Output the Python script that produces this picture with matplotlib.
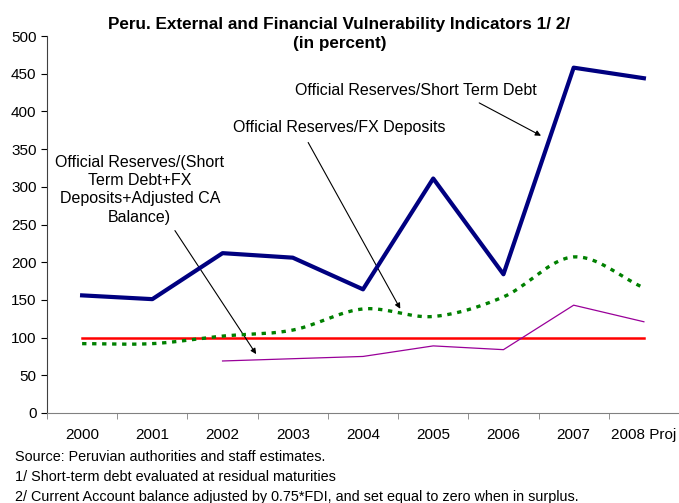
import numpy as np
import matplotlib.pyplot as plt

plt.rcParams['font.family'] = ['Liberation Sans', 'DejaVu Sans']

years = ["2000", "2001", "2002", "2003", "2004", "2005", "2006", "2007", "2008 Proj"]
res_std = [156, 151, 212, 206, 164, 311, 184, 458, 444]
res_fx = [92, 92, 102, 110, 138, 128, 154, 207, 166]
res_total = [np.nan, np.nan, 69, 72, 75, 89, 84, 143, 121]
threshold = [100] * 9


def smooth(xs, ys, n=20):
    # Catmull-Rom curve through the points, like a smoothed spreadsheet line
    xs = np.asarray(xs, float)
    ys = np.asarray(ys, float)
    px = np.concatenate([[2 * xs[0] - xs[1]], xs, [2 * xs[-1] - xs[-2]]])
    py = np.concatenate([[2 * ys[0] - ys[1]], ys, [2 * ys[-1] - ys[-2]]])
    ox, oy = [], []
    for i in range(1, len(px) - 2):
        t = np.linspace(0, 1, n, endpoint=False)
        for arr, out in ((px, ox), (py, oy)):
            p0, p1, p2, p3 = arr[i - 1], arr[i], arr[i + 1], arr[i + 2]
            out.extend(0.5 * (2 * p1 + (-p0 + p2) * t
                              + (2 * p0 - 5 * p1 + 4 * p2 - p3) * t ** 2
                              + (-p0 + 3 * p1 - 3 * p2 + p3) * t ** 3))
    ox.append(xs[-1])
    oy.append(ys[-1])
    return ox, oy


fig = plt.figure(figsize=(6.79, 5.03), dpi=100)
ax = fig.add_axes([47 / 679, 90 / 503, 632 / 679, 377 / 503])

x = np.arange(len(years))
ax.plot(x, threshold, color="#ff0000", lw=1.8, zorder=2)
ax.plot(x, res_total, color="#990099", lw=0.9, zorder=3)
sx, sy = smooth(x, res_fx)
ax.plot(sx, sy, color="#008000", lw=2.4, linestyle=(0, (1.3, 1.7)), zorder=4)
ax.plot(x, res_std, color="#000080", lw=3.0, zorder=5)

ax.set_xlim(-0.5, 8.5)
ax.set_ylim(0, 500)
ax.set_yticks(range(0, 501, 50))
ax.set_xticks(x)
ax.set_xticklabels(years)
ax.set_xticks(np.arange(-0.5, 8.6, 1), minor=True)
ax.tick_params(axis="x", which="major", length=0, pad=11, labelsize=11)
ax.tick_params(axis="x", which="minor", length=4, color="#808080")
ax.tick_params(axis="y", length=4, labelsize=11)
for s in ("top", "right"):
    ax.spines[s].set_visible(False)
ax.spines["bottom"].set_color("#808080")
ax.spines["left"].set_color("#404040")

fig.text(0.5, 0.933, "Peru. External and Financial Vulnerability Indicators 1/ 2/\n(in percent)",
         ha="center", va="center", fontsize=12.3, fontweight="bold", linespacing=1.3)

arrow = dict(arrowstyle="-|>", color="black", lw=0.8, mutation_scale=8)
ax.text(4.75, 428, "Official Reserves/Short Term Debt", ha="center", va="center", fontsize=11.5)
ax.annotate("", xy=(6.57, 366), xytext=(5.62, 413), arrowprops=arrow)
ax.text(3.66, 378, "Official Reserves/FX Deposits", ha="center", va="center", fontsize=11.5)
ax.annotate("", xy=(4.55, 135), xytext=(3.2, 362), arrowprops=arrow)
ax.text(0.82, 296, "Official Reserves/(Short\nTerm Debt+FX\nDeposits+Adjusted CA\nBalance)",
        ha="center", va="center", fontsize=11.5, linespacing=1.27)
ax.annotate("", xy=(2.5, 75), xytext=(1.3, 245), arrowprops=arrow)

notes = ["Source: Peruvian authorities and staff estimates.",
         "1/ Short-term debt evaluated at residual maturities",
         "2/ Current Account balance adjusted by 0.75*FDI, and set equal to zero when in surplus."]
for i, line in enumerate(notes):
    fig.text(15 / 679, 1 - (457 + i * 20) / 503, line, ha="left", va="center", fontsize=10.4)

fig.savefig("out.png", dpi=100)
